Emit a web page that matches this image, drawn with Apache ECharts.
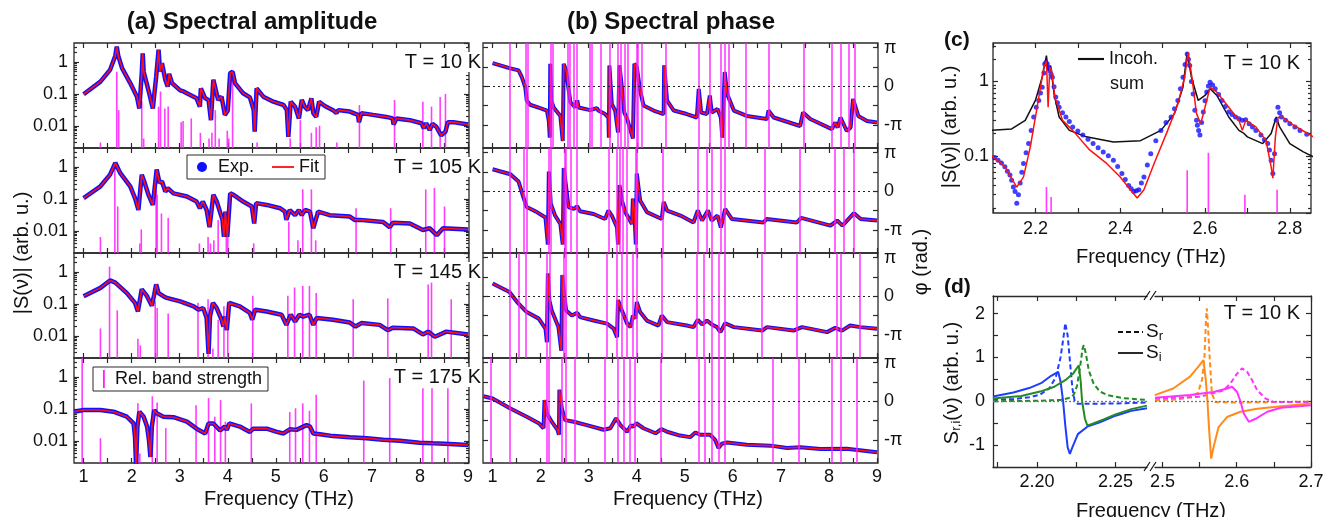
<!DOCTYPE html>
<html><head><meta charset="utf-8">
<script src="https://cdn.jsdelivr.net/npm/echarts@6/dist/echarts.min.js"></script>
<style>html,body{margin:0;padding:0;background:#fff}#c{width:1332px;height:517px}</style>
</head><body><div id="c"></div>
<script>
// ---------------- DATA ----------------
const freqTicks = [1,1.5,2,2.5,3,3.5,4,4.5,5,5.5,6,6.5,7,7.5,8,8.5,9];
const freqLabels = [1,2,3,4,5,6,7,8,9];
const ampMinorTicks = [0.003,0.004,0.005,0.006,0.007,0.008,0.009,0.02,0.03,0.04,0.05,0.06,0.07,0.08,0.09,0.2,0.3,0.4,0.5,0.6,0.7,0.8,0.9,2,3];
const cMinorTicks = [0.02,0.03,0.04,0.05,0.06,0.07,0.08,0.09,0.2,0.3,0.4,0.5,0.6,0.7,0.8,0.9,2,3];
const phaseTicks = [-1,-0.5,0,0.5,1];       // in units of pi
const phaseLabels = [-1,0,1];
const cTicks = [2.1,2.2,2.3,2.4,2.5,2.6,2.7,2.8];
const cLabels = [2.2,2.4,2.6,2.8];
const dTicksY = [-1.5,-1,-0.5,0,0.5,1,1.5,2];
const dLabelsY = [-1,0,1,2];
const dTicksL = [2.175,2.2,2.225,2.25];
const dLabelsL = [2.2,2.25];
const dTicksR = [2.5,2.55,2.6,2.65,2.7];
const dLabelsR = [2.5,2.6,2.7];
const temps = ['T = 10 K','T = 105 K','T = 145 K','T = 175 K'];

// amplitude |S(nu)| [THz, arb.u.]
const amp10 = [[1.0,0.098],[1.35,0.245],[1.55,0.57],[1.66,1.6],[1.69,3.1],[1.72,1.6],[1.8,0.65],[1.97,0.22],[2.11,0.082],[2.16,0.035],[2.21,0.45],[2.23,1.9],[2.25,0.5],[2.35,0.13],[2.44,0.035],[2.51,0.35],[2.56,2.45],[2.59,0.5],[2.63,0.93],[2.7,0.28],[2.75,0.17],[2.78,0.43],[2.84,0.22],[3.01,0.13],[3.08,0.12],[3.15,0.105],[3.35,0.073],[3.42,0.04],[3.44,0.15],[3.53,0.073],[3.6,0.065],[3.65,0.015],[3.7,0.28],[3.73,0.31],[3.8,0.065],[3.87,0.082],[3.94,0.022],[4.0,0.03],[4.05,0.45],[4.1,0.5],[4.15,0.22],[4.32,0.105],[4.46,0.078],[4.54,0.031],[4.56,0.0065],[4.6,0.15],[4.74,0.082],[4.95,0.057],[5.16,0.045],[5.23,0.031],[5.26,0.0045],[5.31,0.057],[5.4,0.04],[5.48,0.017],[5.54,0.065],[5.6,0.04],[5.67,0.031],[5.74,0.073],[5.78,0.025],[5.84,0.019],[5.9,0.057],[6.02,0.042],[6.19,0.031],[6.26,0.025],[6.3,0.031],[6.54,0.028],[6.71,0.022],[6.73,0.013],[6.78,0.025],[7.02,0.022],[7.3,0.019],[7.43,0.017],[7.45,0.011],[7.51,0.017],[7.79,0.015],[8.03,0.012],[8.08,0.0083],[8.13,0.012],[8.2,0.0073],[8.26,0.0115],[8.34,0.0093],[8.44,0.005],[8.53,0.0065],[8.58,0.013],[8.69,0.013],[9.0,0.011]];
const amp105 = [[1.0,0.106],[1.35,0.25],[1.55,0.58],[1.66,1.37],[1.76,0.66],[1.97,0.25],[2.07,0.106],[2.14,0.045],[2.21,0.58],[2.26,0.36],[2.35,0.135],[2.44,0.065],[2.52,0.84],[2.58,0.32],[2.63,0.36],[2.7,0.17],[2.75,0.22],[2.87,0.15],[3.15,0.12],[3.35,0.083],[3.42,0.051],[3.48,0.083],[3.56,0.045],[3.62,0.013],[3.7,0.135],[3.77,0.083],[3.89,0.022],[3.92,0.0064],[3.95,0.04],[3.99,0.0064],[4.05,0.15],[4.12,0.135],[4.32,0.083],[4.5,0.058],[4.55,0.017],[4.59,0.074],[4.81,0.065],[5.09,0.051],[5.19,0.04],[5.22,0.022],[5.29,0.045],[5.4,0.031],[5.48,0.045],[5.54,0.031],[5.61,0.045],[5.71,0.04],[5.78,0.012],[5.88,0.04],[6.12,0.031],[6.54,0.028],[6.64,0.022],[6.75,0.022],[7.23,0.019],[7.37,0.013],[7.44,0.018],[7.79,0.017],[8.06,0.0106],[8.2,0.012],[8.35,0.0073],[8.48,0.012],[9.0,0.011]];
const amp145 = [[1.0,0.176],[1.35,0.32],[1.55,0.55],[1.66,0.47],[1.9,0.22],[2.07,0.108],[2.13,0.058],[2.21,0.29],[2.32,0.176],[2.42,0.088],[2.47,0.2],[2.51,0.41],[2.56,0.22],[2.66,0.176],[2.73,0.155],[3.01,0.12],[3.29,0.084],[3.39,0.066],[3.49,0.074],[3.56,0.036],[3.6,0.0027],[3.63,0.04],[3.69,0.108],[3.77,0.074],[3.87,0.032],[3.91,0.0195],[3.94,0.04],[3.98,0.015],[4.03,0.108],[4.25,0.084],[4.46,0.052],[4.51,0.032],[4.57,0.066],[4.81,0.058],[5.12,0.046],[5.22,0.022],[5.31,0.046],[5.4,0.028],[5.49,0.046],[5.57,0.04],[5.7,0.046],[5.78,0.022],[5.85,0.036],[6.19,0.032],[6.54,0.026],[6.66,0.0195],[6.78,0.025],[7.16,0.022],[7.33,0.015],[7.44,0.018],[7.86,0.017],[8.06,0.011],[8.17,0.0135],[8.31,0.0093],[8.55,0.0135],[9.0,0.011]];
const amp175 = [[0.8,0.082],[1.0,0.093],[1.35,0.093],[1.62,0.082],[1.9,0.057],[2.04,0.035],[2.07,0.013],[2.09,0.0019],[2.12,0.028],[2.16,0.082],[2.25,0.057],[2.32,0.028],[2.36,0.0105],[2.39,0.0031],[2.42,0.028],[2.47,0.093],[2.52,0.073],[2.66,0.057],[2.87,0.055],[3.15,0.04],[3.35,0.024],[3.53,0.017],[3.6,0.035],[3.7,0.035],[3.84,0.021],[3.94,0.028],[3.98,0.022],[4.03,0.035],[4.25,0.028],[4.46,0.019],[4.53,0.024],[4.81,0.024],[5.02,0.019],[5.16,0.017],[5.29,0.023],[5.43,0.022],[5.64,0.031],[5.71,0.028],[5.78,0.017],[5.92,0.016],[6.19,0.014],[6.54,0.0128],[6.89,0.012],[7.23,0.0107],[7.58,0.01],[7.99,0.0087],[8.27,0.0083],[8.62,0.0079],[9.0,0.0074]];

// phase [THz, units of pi]
const ph10 = [[1.0,0.6],[1.35,0.47],[1.54,0.41],[1.61,0.23],[1.68,-0.03],[1.71,-0.37],[1.78,-0.48],[1.99,-0.565],[2.13,-0.63],[2.17,-0.9],[2.19,-1.33],[2.2,0.58],[2.22,-0.37],[2.27,-0.55],[2.41,-0.77],[2.46,-1.42],[2.48,0.58],[2.53,0.41],[2.58,-0.07],[2.62,-0.42],[2.72,-0.55],[2.76,-0.37],[2.79,-0.55],[3.03,-0.62],[3.17,-0.565],[3.2,-0.63],[3.34,-0.72],[3.41,-0.81],[3.42,-1.33],[3.43,0.54],[3.48,-0.46],[3.55,-0.63],[3.61,-1.2],[3.64,0.54],[3.69,-0.03],[3.74,-0.68],[3.8,-0.85],[3.92,-1.35],[3.95,0.58],[4.0,0.5],[4.07,-0.11],[4.14,-0.5],[4.35,-0.63],[4.56,-0.72],[4.57,0.54],[4.63,-0.37],[4.77,-0.63],[5.04,-0.72],[5.25,-0.81],[5.29,-0.07],[5.34,-0.68],[5.46,-0.72],[5.52,-0.24],[5.56,-0.68],[5.68,-0.59],[5.75,-0.81],[5.78,-1.33],[5.83,0.37],[5.88,-0.2],[6.02,-0.63],[6.29,-0.77],[6.71,-0.85],[6.74,-0.63],[6.85,-0.81],[7.4,-1.03],[7.46,-0.68],[7.61,-0.85],[8.06,-1.11],[8.13,-0.94],[8.18,-1.07],[8.24,-0.81],[8.37,-1.16],[8.45,-1.07],[8.5,-0.33],[8.61,-0.77],[8.79,-0.9],[9.0,-0.94]];
const ph105 = [[1.0,0.57],[1.37,0.44],[1.54,0.25],[1.65,-0.19],[1.71,-0.41],[1.92,-0.54],[2.1,-0.68],[2.15,-1.38],[2.17,0.51],[2.21,-0.32],[2.3,-0.63],[2.41,-0.85],[2.46,-1.38],[2.48,0.6],[2.53,0.11],[2.58,-0.41],[2.69,-0.46],[2.76,-0.39],[2.82,-0.52],[3.1,-0.59],[3.34,-0.72],[3.41,-0.5],[3.48,-0.63],[3.59,-0.94],[3.61,-1.38],[3.64,0.16],[3.69,-0.24],[3.76,-0.54],[3.9,-0.85],[3.92,-0.19],[3.95,-0.5],[3.98,-1.38],[4.0,0.46],[4.07,-0.24],[4.21,-0.54],[4.52,-0.72],[4.56,-0.28],[4.63,-0.5],[4.91,-0.63],[5.18,-0.81],[5.27,-0.5],[5.36,-0.76],[5.48,-0.5],[5.56,-0.76],[5.68,-0.63],[5.75,-0.94],[5.84,-0.46],[5.98,-0.72],[6.64,-0.81],[6.7,-0.72],[7.33,-0.81],[7.42,-0.69],[8.03,-0.89],[8.17,-0.76],[8.28,-0.89],[8.52,-0.57],[8.66,-0.72],[9.0,-0.76]];
const ph145 = [[1.0,0.33],[1.35,0.11],[1.51,-0.15],[1.71,-0.41],[1.96,-0.58],[2.1,-0.84],[2.13,-1.19],[2.15,0.59],[2.18,-0.1],[2.23,-0.37],[2.37,-0.8],[2.43,-1.41],[2.45,0.55],[2.49,0.03],[2.53,-0.37],[2.65,-0.5],[2.76,-0.43],[2.82,-0.54],[3.1,-0.63],[3.38,-0.71],[3.41,-0.67],[3.52,-0.84],[3.59,-1.06],[3.61,-0.1],[3.69,-0.37],[3.8,-0.71],[3.87,-0.8],[3.92,-0.5],[3.97,-0.58],[4.0,-0.15],[4.07,-0.41],[4.21,-0.63],[4.45,-0.76],[4.52,-0.5],[4.63,-0.67],[5.04,-0.76],[5.18,-0.8],[5.27,-0.61],[5.36,-0.73],[5.46,-0.63],[5.56,-0.73],[5.67,-0.8],[5.74,-0.93],[5.84,-0.7],[6.02,-0.8],[6.61,-0.89],[6.71,-0.8],[7.26,-0.89],[7.44,-0.8],[7.96,-0.93],[8.13,-0.82],[8.27,-0.89],[8.44,-0.76],[8.65,-0.8],[9.0,-0.84]];
const ph175 = [[0.81,0.13],[1.0,0.07],[1.37,-0.19],[1.71,-0.4],[1.96,-0.57],[2.06,-0.7],[2.08,0.03],[2.13,-0.32],[2.23,-0.53],[2.35,-0.74],[2.38,-0.87],[2.39,0.3],[2.44,-0.19],[2.51,-0.49],[2.69,-0.53],[2.96,-0.62],[3.31,-0.74],[3.45,-0.7],[3.57,-0.44],[3.66,-0.62],[3.8,-0.79],[3.88,-0.62],[3.93,-0.66],[3.99,-0.57],[4.14,-0.7],[4.39,-0.83],[4.51,-0.72],[4.63,-0.79],[4.9,-0.89],[5.11,-0.93],[5.22,-0.81],[5.32,-0.87],[5.53,-0.87],[5.63,-1.0],[5.7,-1.21],[5.77,-1.1],[5.88,-1.07],[6.29,-1.13],[6.78,-1.15],[7.13,-1.21],[7.4,-1.19],[7.82,-1.24],[8.37,-1.23],[9.0,-1.32]];

// relative band strength [THz, strength]
const bands10 = [[1.35,0.003],[1.69,0.5],[1.73,0.031],[2.21,0.06],[2.25,0.004],[2.56,0.04],[2.60,0.12],[2.69,0.035],[2.76,0.04],[3.03,0.013],[3.07,0.014],[3.24,0.017],[3.43,0.006],[3.61,0.004],[3.67,0.006],[3.74,0.031],[3.82,0.004],[3.99,0.007],[4.02,0.004],[4.10,0.57],[4.61,0.003],[5.30,0.004],[5.51,0.015],[5.74,0.006],[5.84,0.009],[5.91,0.01],[6.27,0.003],[6.74,0.045],[7.47,0.065],[8.06,0.057],[8.24,0.04],[8.42,0.08],[8.53,0.1]];
const bands105 = [[1.35,0.0064],[1.65,1.0],[1.71,0.058],[2.17,0.004],[2.2,0.011],[2.51,0.2],[2.53,0.135],[2.62,0.035],[2.76,0.025],[3.41,0.004],[3.59,0.0064],[3.64,0.004],[3.71,0.005],[3.8,0.022],[3.97,0.012],[4.0,0.015],[4.54,0.004],[5.27,0.019],[5.46,0.005],[5.56,0.2],[5.74,0.2],[5.83,0.005],[6.67,0.051],[7.39,0.051],[8.12,0.2],[8.3,0.22],[8.51,0.058]];
const bands145 = [[1.35,0.017],[1.54,1.5],[1.7,0.063],[2.13,0.008],[2.18,0.005],[2.49,0.12],[2.53,0.075],[2.76,0.05],[3.38,0.11],[3.59,0.14],[3.69,0.004],[3.8,0.032],[3.92,0.085],[4.0,0.12],[4.52,0.18],[5.25,0.18],[5.39,0.33],[5.56,0.37],[5.7,0.37],[5.84,0.22],[6.61,0.14],[7.33,0.15],[8.17,0.41],[8.24,0.47],[8.65,0.14]];
const bands175 = [[0.97,6],[1.35,0.012],[2.13,0.15],[2.17,0.004],[2.43,0.25],[2.53,0.16],[2.71,0.025],[3.34,0.13],[3.6,0.22],[3.73,0.057],[3.85,0.19],[3.95,0.04],[4.49,0.15],[5.29,0.08],[5.41,0.105],[5.56,0.15],[5.7,0.088],[5.84,0.28],[6.83,0.78],[7.37,0.93],[8.06,0.45],[8.25,0.45],[8.58,0.45]];

// panel (c)
const cExp = [[2.096,0.102],[2.104,0.095],[2.112,0.087],[2.12,0.08],[2.128,0.071],[2.134,0.062],[2.14,0.055],[2.144,0.047],[2.148,0.038],[2.152,0.033],[2.156,0.023],[2.16,0.03],[2.164,0.043],[2.168,0.06],[2.172,0.079],[2.178,0.11],[2.184,0.146],[2.19,0.22],[2.196,0.333],[2.202,0.45],[2.208,0.556],[2.212,0.7],[2.216,0.84],[2.22,1.3],[2.222,1.72],[2.225,1.8],[2.228,1.72],[2.231,1.55],[2.234,1.4],[2.237,1.25],[2.24,1.14],[2.244,0.85],[2.248,0.62],[2.252,0.52],[2.256,0.45],[2.264,0.38],[2.272,0.333],[2.28,0.29],[2.288,0.245],[2.3,0.215],[2.312,0.19],[2.324,0.167],[2.336,0.146],[2.348,0.128],[2.36,0.113],[2.372,0.1],[2.384,0.087],[2.394,0.072],[2.404,0.058],[2.412,0.048],[2.42,0.04],[2.426,0.036],[2.432,0.033],[2.438,0.034],[2.444,0.035],[2.45,0.043],[2.456,0.052],[2.464,0.075],[2.472,0.107],[2.484,0.16],[2.496,0.22],[2.508,0.28],[2.52,0.333],[2.528,0.43],[2.536,0.556],[2.542,0.8],[2.548,1.14],[2.553,1.7],[2.558,2.35],[2.561,2.0],[2.564,1.64],[2.568,1.0],[2.572,0.68],[2.576,0.41],[2.58,0.3],[2.582,0.258],[2.585,0.22],[2.588,0.19],[2.592,0.28],[2.596,0.39],[2.6,0.55],[2.604,0.72],[2.608,0.87],[2.612,0.98],[2.618,0.9],[2.624,0.8],[2.632,0.67],[2.64,0.556],[2.648,0.46],[2.656,0.39],[2.664,0.36],[2.672,0.333],[2.68,0.315],[2.688,0.3],[2.696,0.305],[2.704,0.27],[2.712,0.245],[2.72,0.22],[2.732,0.19],[2.74,0.165],[2.748,0.146],[2.752,0.12],[2.756,0.087],[2.76,0.058],[2.764,0.107],[2.768,0.3],[2.772,0.45],[2.776,0.38],[2.78,0.333],[2.79,0.3],[2.8,0.27],[2.812,0.245],[2.824,0.22],[2.84,0.195],[2.856,0.176]];
const cFit = [[2.096,0.102],[2.128,0.071],[2.156,0.038],[2.172,0.052],[2.188,0.132],[2.204,0.45],[2.22,1.56],[2.226,1.9],[2.23,0.45],[2.234,1.56],[2.238,1.4],[2.246,0.62],[2.264,0.3],[2.288,0.22],[2.328,0.12],[2.368,0.079],[2.4,0.052],[2.424,0.035],[2.44,0.027],[2.456,0.035],[2.48,0.079],[2.512,0.22],[2.536,0.5],[2.552,1.14],[2.56,2.47],[2.568,1.27],[2.58,0.37],[2.59,0.27],[2.6,0.45],[2.612,0.84],[2.628,0.72],[2.656,0.45],[2.68,0.3],[2.688,0.22],[2.696,0.3],[2.72,0.245],[2.744,0.16],[2.756,0.071],[2.76,0.05],[2.766,0.18],[2.772,0.33],[2.784,0.33],[2.808,0.26],[2.856,0.18]];
const cSum = [[2.096,0.22],[2.144,0.23],[2.176,0.3],[2.2,0.556],[2.216,1.14],[2.226,2.23],[2.23,1.4],[2.236,1.64],[2.244,0.68],[2.256,0.333],[2.28,0.22],[2.32,0.18],[2.384,0.154],[2.448,0.16],[2.496,0.22],[2.528,0.37],[2.548,0.84],[2.558,2.47],[2.568,1.14],[2.584,0.556],[2.6,0.65],[2.612,0.8],[2.628,0.65],[2.656,0.333],[2.68,0.22],[2.692,0.2],[2.7,0.18],[2.736,0.146],[2.756,0.2],[2.768,0.333],[2.776,0.245],[2.8,0.146],[2.832,0.113],[2.856,0.097]];
const cBands = [[2.226,0.038],[2.237,0.028],[2.558,0.064],[2.608,0.11],[2.694,0.03],[2.77,0.035]];

// panel (d): S_r (dashed) and S_i (solid)
const dBlueR = [[2.172,0.03],[2.185,0.05],[2.195,0.09],[2.202,0.15],[2.208,0.3],[2.212,0.55],[2.215,1.0],[2.217,1.5],[2.218,1.78],[2.2195,1.5],[2.221,0.9],[2.2225,0.3],[2.224,0.0],[2.226,-0.06],[2.235,-0.06],[2.25,-0.05],[2.27,-0.03]];
const dBlueI = [[2.172,0.11],[2.185,0.2],[2.195,0.3],[2.203,0.42],[2.209,0.58],[2.2135,0.67],[2.215,0.45],[2.2166,0.0],[2.218,-0.55],[2.2195,-1.05],[2.2209,-1.2],[2.2225,-1.05],[2.226,-0.75],[2.232,-0.58],[2.24,-0.48],[2.25,-0.33],[2.26,-0.22],[2.27,-0.16]];
const dGreenR = [[2.172,0.0],[2.2,0.01],[2.215,0.03],[2.221,0.08],[2.2234,0.15],[2.2255,0.35],[2.2275,0.8],[2.229,1.2],[2.2298,1.28],[2.231,1.1],[2.233,0.7],[2.236,0.4],[2.24,0.22],[2.245,0.14],[2.255,0.07],[2.27,0.03]];
const dGreenI = [[2.172,0.06],[2.19,0.12],[2.202,0.22],[2.211,0.33],[2.218,0.48],[2.223,0.63],[2.2266,0.82],[2.2278,0.45],[2.2287,0.0],[2.2305,-0.4],[2.232,-0.55],[2.235,-0.52],[2.242,-0.42],[2.25,-0.3],[2.26,-0.18],[2.27,-0.1]];
const dOrangeR = [[2.49,0.02],[2.52,0.04],[2.54,0.1],[2.548,0.2],[2.5535,0.5],[2.5565,1.0],[2.5585,1.8],[2.5597,2.12],[2.561,1.8],[2.5633,1.09],[2.5665,0.18],[2.571,-0.02],[2.6,-0.03],[2.65,-0.02],[2.7,-0.01]];
const dOrangeI = [[2.4896,0.14],[2.5145,0.29],[2.5371,0.56],[2.5484,0.79],[2.5552,0.94],[2.5584,0.48],[2.5606,0.0],[2.5629,-0.66],[2.5656,-1.31],[2.5688,-1.05],[2.5756,-0.59],[2.5869,-0.36],[2.605,-0.24],[2.6276,-0.17],[2.6502,-0.13],[2.7,-0.05]];
const dMagR = [[2.49,0.06],[2.55,0.1],[2.5824,0.25],[2.5914,0.4],[2.6005,0.63],[2.6072,0.75],[2.614,0.67],[2.6208,0.48],[2.6276,0.25],[2.6389,0.06],[2.6502,-0.02],[2.7,-0.02]];
const dMagI = [[2.49,0.08],[2.5371,0.14],[2.5688,0.21],[2.5869,0.29],[2.5937,0.33],[2.6005,0.21],[2.605,0.0],[2.6095,-0.28],[2.6163,-0.47],[2.6253,-0.4],[2.6412,-0.24],[2.6593,-0.15],[2.7,-0.09]];

// ---------------- CHART ----------------
const FONT = "'Liberation Sans', Arial, Helvetica, sans-serif";
const INK = '#2a2a2a', TXT = '#111';
const BLUE = '#1010ff', RED = '#ff1010', MAG = '#ff1cff';
const ampMin = 0.002, ampMax = 4, phMin = -1.6, phMax = 1.12, fMin = 0.8, fMax = 9.02;
const aTops = [43, 148, 253, 358];
const ampSets = [amp10, amp105, amp145, amp175];
const phSets = [ph10, ph105, ph145, ph175];
const bandSets = [bands10, bands105, bands145, bands175];
const LBL = 18;

const grids = [], xAxis = [], yAxis = [], series = [];
function addGrid(g, show) {
  grids.push(Object.assign({show: show !== false, borderColor: INK, borderWidth: 1.3, backgroundColor: 'rgba(0,0,0,0)', containLabel: false, outerBoundsMode: 'none'}, g));
  return grids.length - 1;
}
function tick(len, vals) {
  const t = {show: true, inside: true, length: len, lineStyle: {color: INK, width: 1.2}};
  if (vals) t.customValues = vals;
  return t;
}
function lab(vals, fmt, margin) {
  if (!vals) return {show: false};
  return {show: true, customValues: vals, formatter: fmt, fontSize: LBL, color: TXT, fontFamily: FONT, margin: margin == null ? 5 : margin};
}
function linAxis(g, pos, min, max, ticks, labels, fmt, line, margin) {
  return {gridIndex: g, type: 'value', position: pos, min: min, max: max,
    splitLine: {show: false},
    axisLine: {show: !!line, onZero: false, lineStyle: {color: INK, width: 1.3}},
    axisTick: tick(5, ticks), axisLabel: lab(labels, fmt, margin)};
}
function logAxis(g, pos, min, max, labels, margin) {
  return {gridIndex: g, type: 'log', logBase: 10, position: pos, min: min, max: max,
    splitLine: {show: false}, axisLine: {show: false, onZero: false},
    axisTick: tick(5),
    axisLabel: labels ? {show: true, fontSize: LBL, color: TXT, fontFamily: FONT, margin: margin == null ? 6 : margin,
      showMinLabel: false, showMaxLabel: false,
      formatter: v => (v >= 1 ? String(Math.round(v)) : String(+v.toPrecision(1)))} : {show: false}};
}
function logMinorAxis(g, pos, min, max, ticks) {
  return {gridIndex: g, type: 'log', logBase: 10, position: pos, min: min, max: max,
    splitLine: {show: false}, axisLine: {show: false, onZero: false},
    axisTick: tick(3, ticks), axisLabel: {show: false}};
}
function sticks(minVal) {
  return function (params, api) {
    const x = api.value(0), v = api.value(1);
    const p1 = api.coord([x, v]), p0 = api.coord([x, minVal]);
    return {type: 'line', shape: {x1: p0[0], y1: p0[1], x2: p1[0], y2: p1[1]},
      style: {stroke: MAG, lineWidth: 1.6, opacity: 0.85}};
  };
}
const phFmt = v => (v === 1 ? 'π' : v === -1 ? '-π' : '0');

// (a) amplitude panels
for (let i = 0; i < 4; i++) {
  const g = addGrid({left: 74, top: aTops[i], width: 395, height: 105});
  const xi = xAxis.length, yi = yAxis.length;
  xAxis.push(linAxis(g, 'bottom', fMin, fMax, freqTicks, i === 3 ? freqLabels : null, v => String(v)));
  xAxis.push(linAxis(g, 'top', fMin, fMax, freqTicks, null));
  yAxis.push(logAxis(g, 'left', ampMin, ampMax, true));
  yAxis.push(logAxis(g, 'right', ampMin, ampMax, false));
  yAxis.push(logMinorAxis(g, 'left', ampMin, ampMax, ampMinorTicks));
  yAxis.push(logMinorAxis(g, 'right', ampMin, ampMax, ampMinorTicks));
  series.push({type: 'custom', name: 'Rel. band strength', xAxisIndex: xi, yAxisIndex: yi, data: bandSets[i],
    renderItem: sticks(ampMin), clip: true, z: 1, silent: true, itemStyle: {color: MAG}});
  series.push({type: 'line', name: 'Exp.', xAxisIndex: xi, yAxisIndex: yi, data: ampSets[i], symbol: 'none',
    lineStyle: {color: BLUE, width: 4.5}, itemStyle: {color: BLUE}, z: 2, silent: true});
  series.push({type: 'line', name: 'Fit', xAxisIndex: xi, yAxisIndex: yi, data: ampSets[i], symbol: 'none',
    lineStyle: {color: RED, width: 1.6}, itemStyle: {color: RED}, z: 3, silent: true});
}
// (b) phase panels
for (let i = 0; i < 4; i++) {
  const g = addGrid({left: 483, top: aTops[i], width: 395, height: 105});
  const xi = xAxis.length, yi = yAxis.length;
  xAxis.push(linAxis(g, 'bottom', fMin, fMax, freqTicks, i === 3 ? freqLabels : null, v => String(v)));
  xAxis.push(linAxis(g, 'top', fMin, fMax, freqTicks, null));
  yAxis.push(linAxis(g, 'right', phMin, phMax, phaseTicks, phaseLabels, phFmt, false, 6));
  yAxis.push(linAxis(g, 'left', phMin, phMax, phaseTicks, null));
  const ml = bandSets[i].map(b => ({xAxis: b[0]}));
  ml.push({yAxis: 0, lineStyle: {color: '#222', type: [2, 3], width: 1.2, opacity: 1}});
  series.push({type: 'line', name: 'Rel. band strength', xAxisIndex: xi, yAxisIndex: yi, data: [], z: 1, silent: true,
    itemStyle: {color: MAG},
    markLine: {silent: true, symbol: ['none', 'none'], label: {show: false}, animation: false,
      lineStyle: {color: MAG, width: 1.6, type: 'solid', opacity: 0.85}, data: ml}});
  series.push({type: 'line', name: 'Exp.', xAxisIndex: xi, yAxisIndex: yi, data: phSets[i], symbol: 'none',
    lineStyle: {color: BLUE, width: 4}, itemStyle: {color: BLUE}, z: 2, silent: true});
  series.push({type: 'line', name: 'Fit', xAxisIndex: xi, yAxisIndex: yi, data: phSets[i], symbol: 'none',
    lineStyle: {color: RED, width: 1.6}, itemStyle: {color: RED}, z: 3, silent: true});
}
// (c)
{
  const g = addGrid({left: 993, top: 43, width: 318, height: 170});
  const xi = xAxis.length, yi = yAxis.length;
  xAxis.push(linAxis(g, 'bottom', 2.1, 2.85, cTicks, cLabels, v => v.toFixed(1), false, 7));
  xAxis.push(linAxis(g, 'top', 2.1, 2.85, cTicks, null));
  yAxis.push(logAxis(g, 'left', 0.017, 3.3, true, 4));
  yAxis.push(logAxis(g, 'right', 0.017, 3.3, false));
  yAxis.push(logMinorAxis(g, 'left', 0.017, 3.3, cMinorTicks));
  yAxis.push(logMinorAxis(g, 'right', 0.017, 3.3, cMinorTicks));
  series.push({type: 'custom', name: 'Rel. band strength', xAxisIndex: xi, yAxisIndex: yi, data: cBands,
    renderItem: sticks(0.017), clip: true, z: 1, silent: true, itemStyle: {color: MAG}});
  series.push({type: 'line', name: 'Incoh. sum', xAxisIndex: xi, yAxisIndex: yi, data: cSum, symbol: 'none',
    lineStyle: {color: '#111', width: 1.5}, itemStyle: {color: '#111'}, z: 2, silent: true});
  series.push({type: 'scatter', name: 'Exp.', xAxisIndex: xi, yAxisIndex: yi, data: cExp, symbolSize: 5,
    itemStyle: {color: BLUE}, z: 3, silent: true});
  series.push({type: 'line', name: 'Fit', xAxisIndex: xi, yAxisIndex: yi, data: cFit, symbol: 'none',
    lineStyle: {color: RED, width: 1.5}, itemStyle: {color: RED}, z: 4, silent: true});
}
// (d) broken axis: two grids
const DB = '#1f3cff', DG = '#238b23', DO = '#ff8c1a', DM = '#ff33ff';
const zeroLine = {silent: true, symbol: ['none', 'none'], label: {show: false}, animation: false,
  lineStyle: {color: '#777', type: [2, 2], width: 1.3}, data: [{yAxis: 0}]};
function dSeries(xi, yi, data, color, dashed, withZero) {
  const s = {type: 'line', xAxisIndex: xi, yAxisIndex: yi, data: data, symbol: 'none', silent: true, z: 3,
    lineStyle: {color: color, width: 2, type: dashed ? [5, 3] : 'solid'}, itemStyle: {color: color}};
  if (withZero) s.markLine = zeroLine;
  return s;
}
{
  const gL = addGrid({left: 993, top: 296, width: 154, height: 171}, false);
  let xi = xAxis.length, yi = yAxis.length;
  xAxis.push(linAxis(gL, 'bottom', 2.172, 2.27, dTicksL, dLabelsL, v => v.toFixed(2), true, 6));
  xAxis.push(linAxis(gL, 'top', 2.172, 2.27, dTicksL, null, null, true));
  yAxis.push(linAxis(gL, 'left', -1.5, 2.4, dTicksY, dLabelsY, v => String(v), true, 8));
  series.push(dSeries(xi, yi, dBlueR, DB, true, true));
  series.push(dSeries(xi, yi, dGreenR, DG, true));
  series.push(dSeries(xi, yi, dBlueI, DB, false));
  series.push(dSeries(xi, yi, dGreenI, DG, false));
  const gR = addGrid({left: 1155, top: 296, width: 156, height: 171}, false);
  xi = xAxis.length; yi = yAxis.length;
  xAxis.push(linAxis(gR, 'bottom', 2.49, 2.70, dTicksR, dLabelsR, v => v.toFixed(1), true, 6));
  xAxis.push(linAxis(gR, 'top', 2.49, 2.70, dTicksR, null, null, true));
  yAxis.push(linAxis(gR, 'right', -1.5, 2.4, dTicksY, null, null, true));
  series.push(dSeries(xi, yi, dOrangeR, DO, true, true));
  series.push(dSeries(xi, yi, dMagR, DM, true));
  series.push(dSeries(xi, yi, dOrangeI, DO, false));
  series.push(dSeries(xi, yi, dMagI, DM, false));
}

// ---------------- TEXT / DECORATION ----------------
function T(text, x, y, font, align, extra, bg) {
  const st = {text: text, font: font + ' ' + FONT, fill: TXT, align: align || 'center', textAlign: align || 'center',
    verticalAlign: 'middle', textVerticalAlign: 'middle'};
  if (bg) { st.backgroundColor = '#fff'; st.padding = [0, 1, 0, 2]; }
  return Object.assign({type: 'text', x: x, y: y, silent: true, z: 50, style: st}, extra || {});
}
function L(x1, y1, x2, y2, w, dash) {
  return {type: 'line', silent: true, z: 50, shape: {x1: x1, y1: y1, x2: x2, y2: y2},
    style: {stroke: '#111', lineWidth: w || 1.5, lineDash: dash || null}};
}
const subRich = (n) => ({n: {fontSize: n, fontFamily: FONT, fill: TXT}, s: {fontSize: 13, fontFamily: FONT, fill: TXT, verticalAlign: 'bottom', padding: [8, 0, 0, 0]}});
const graphic = [
  T('(a) Spectral amplitude', 252, 22, 'bold 24px'),
  T('(b) Spectral phase', 671, 22, 'bold 24px'),
  T('(c)', 944, 40, 'bold 21px', 'left'),
  T('(d)', 944, 287, 'bold 21px', 'left'),
  T('Frequency (THz)', 279, 499, '20px'),
  T('Frequency (THz)', 688, 499, '20px'),
  T('Frequency (THz)', 1151, 257, '20px'),
  T('Frequency (THz)', 1151, 511, '20px'),
  T('|S(ν)| (arb. u.)', 22, 253, '20px', 'center', {rotation: Math.PI / 2}),
  T('φ (rad.)', 921, 262, '20px', 'center', {rotation: Math.PI / 2}),
  T('|S(ν)| (arb. u.)', 950, 127, '20px', 'center', {rotation: Math.PI / 2}),
  {type: 'text', x: 952, y: 383, rotation: Math.PI / 2, silent: true, z: 50,
    style: {text: '{n|S}{s|r,i}{n|(ν) (arb. u.)}', align: 'center', verticalAlign: 'middle', fill: TXT, rich: subRich(20)}},
  T('T = 10 K', 1300, 63, '20px', 'right'),
  T('T = 10 K', 1300, 313, '20px', 'right'),
  T('sum', 1110, 84, '18px', 'left'),
  // (d) legend
  L(1118, 332, 1143, 332, 1.8, [5, 3]),
  L(1118, 353, 1143, 353, 1.8),
  {type: 'text', x: 1146, y: 332, silent: true, z: 50,
    style: {text: '{n|S}{s|r}', align: 'left', verticalAlign: 'middle', rich: subRich(19)}},
  {type: 'text', x: 1146, y: 353, silent: true, z: 50,
    style: {text: '{n|S}{s|i}', align: 'left', verticalAlign: 'middle', rich: subRich(19)}},
  // axis break marks
  L(1144, 300, 1150, 291, 1.2), L(1150, 300, 1156, 291, 1.2),
  L(1144, 471, 1150, 462, 1.2), L(1150, 471, 1156, 462, 1.2)
];
for (let i = 0; i < 4; i++) graphic.push(T(temps[i], 482, aTops[i] + 19, '20px', 'right', null, true));

const legendText = {fontSize: 18, color: TXT, fontFamily: FONT};
const lineIcon = 'path://M0,0L24,0L24,2L0,2Z';
const option = {
  animation: false,
  backgroundColor: '#fff',
  tooltip: {show: false},
  grid: grids, xAxis: xAxis, yAxis: yAxis, series: series, graphic: graphic,
  legend: [
    {left: 187, top: 155, orient: 'horizontal', padding: [3, 6, 3, 10], itemGap: 18, itemWidth: 22, itemHeight: 10,
      borderColor: INK, borderWidth: 1, selectedMode: false, textStyle: legendText,
      data: [{name: 'Exp.', icon: 'circle'}, {name: 'Fit', icon: lineIcon}]},
    {left: 93, top: 367, padding: [3, 6, 3, 10], itemWidth: 12, itemHeight: 18, borderColor: INK, borderWidth: 1,
      selectedMode: false, textStyle: legendText,
      data: [{name: 'Rel. band strength', icon: 'path://M0,0L2,0L2,20L0,20Z'}]},
    {left: 1078, top: 50, padding: 0, itemWidth: 26, itemHeight: 22, itemGap: 6, selectedMode: false,
      textStyle: legendText, formatter: () => 'Incoh.',
      data: [{name: 'Incoh. sum', icon: lineIcon}]}
  ]
};
const chart = echarts.init(document.getElementById('c'), null, {renderer: 'canvas'});
chart.setOption(option);
</script></body></html>
